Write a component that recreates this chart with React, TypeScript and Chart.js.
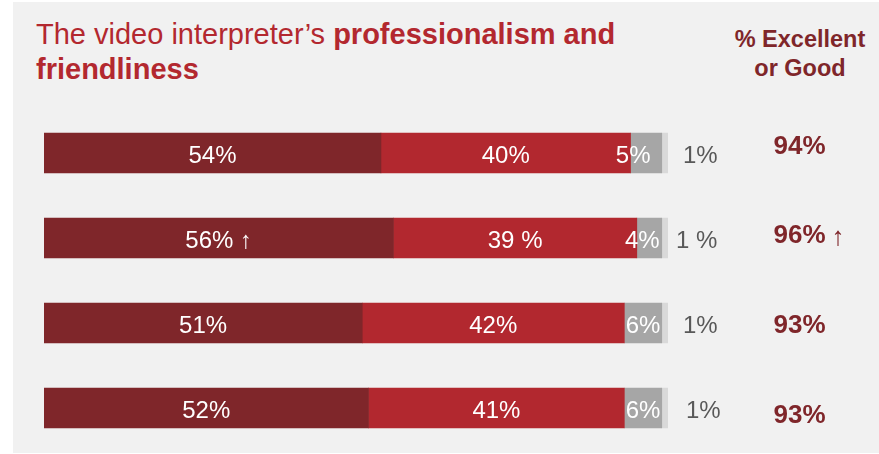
import { useEffect, useRef } from 'react';
import { Chart, registerables } from 'chart.js';

Chart.register(...registerables);

const categories = ['Wave 1', 'Wave 2', 'Wave 3', 'Wave 4'];
const excellent = [54, 56, 51, 52];
const good = [40, 39, 42, 41];
const fair = [5, 4, 6, 6];
const poor = [1, 1, 1, 1];

const excellentLabels = ['54%', '56% ↑', '51%', '52%'];
const goodLabels = ['40%', '39 %', '42%', '41%'];
const fairLabels = ['5%', '4%', '6%', '6%'];
const poorLabels = ['1%', '1 %', '1%', '1%'];
const excellentOrGood = ['94%', '96%', '93%', '93%'];
const trendMarks = ['', '↑', '', ''];

const FONT = '"Liberation Sans", Arial, Helvetica, sans-serif';
const COLORS = ['#7f262a', '#b2282f', '#a6a6a6', '#d9d9d9'];
const fairNudge = [-13, -7, 0, 0];
const poorGap = [15, 8, 15, 18];
const rightDrift = [1, 5, 10, 15];

const labelPlugin = {
  id: 'barLabels',
  afterDatasetsDraw(chart: any) {
    const ctx = chart.ctx as CanvasRenderingContext2D;
    ctx.save();
    ctx.textBaseline = 'alphabetic';
    const inside = [excellentLabels, goodLabels, fairLabels];
    inside.forEach((labels, di) => {
      const meta = chart.getDatasetMeta(di);
      meta.data.forEach((el: any, i: number) => {
        const { x, y, base } = el.getProps(['x', 'y', 'base'], true);
        const nudge = di === 2 ? fairNudge[i] : 0;
        ctx.font = `24px ${FONT}`;
        ctx.fillStyle = '#ffffff';
        ctx.textAlign = 'center';
        ctx.fillText(labels[i], (x + base) / 2 + nudge, y + 10);
      });
    });
    const outMeta = chart.getDatasetMeta(3);
    outMeta.data.forEach((el: any, i: number) => {
      const { x, y } = el.getProps(['x', 'y'], true);
      ctx.font = `24px ${FONT}`;
      ctx.fillStyle = '#595959';
      ctx.textAlign = 'left';
      ctx.fillText(poorLabels[i], x + poorGap[i], y + 10);
    });
    const cx = 799.5;
    outMeta.data.forEach((el: any, i: number) => {
      const { y } = el.getProps(['y'], true);
      ctx.font = `bold 26px ${FONT}`;
      ctx.fillStyle = '#7f262a';
      ctx.textAlign = 'left';
      const w = ctx.measureText(excellentOrGood[i]).width;
      const sx = cx - w / 2;
      const by = y + rightDrift[i];
      ctx.fillText(excellentOrGood[i], sx, by);
      if (trendMarks[i]) {
        ctx.font = `26px ${FONT}`;
        ctx.fillText(trendMarks[i], sx + w + 6, by + 2);
      }
    });
    ctx.restore();
  },
};

export default function App() {
  const canvasRef = useRef<HTMLCanvasElement | null>(null);

  useEffect(() => {
    if (!canvasRef.current) return;
    const chart = new Chart(canvasRef.current, {
      type: 'bar',
      data: {
        labels: categories,
        datasets: [
          { label: 'Excellent', data: excellent, backgroundColor: COLORS[0] },
          { label: 'Good', data: good, backgroundColor: COLORS[1] },
          { label: 'Fair', data: fair, backgroundColor: COLORS[2] },
          { label: 'Poor', data: poor, backgroundColor: COLORS[3] },
        ].map((d) => ({ ...d, barThickness: 40, borderWidth: 0 })),
      },
      options: {
        indexAxis: 'y',
        animation: false,
        responsive: false,
        devicePixelRatio: 1,
        layout: { padding: { left: 44, right: 211, top: 110.5, bottom: 3.5 } },
        scales: {
          x: { stacked: true, min: 0, max: 100, display: false },
          y: { stacked: true, display: false },
        },
        plugins: {
          legend: { display: false },
          tooltip: { enabled: false },
          title: { display: false },
        },
      },
      plugins: [labelPlugin],
    } as any);
    return () => chart.destroy();
  }, []);

  return (
    <div
      style={{
        position: 'fixed',
        left: 0,
        top: 0,
        width: 879,
        height: 454,
        background: '#ffffff',
        overflow: 'hidden',
        fontFamily: FONT,
      }}
    >
      <div
        style={{
          position: 'absolute',
          left: 13,
          top: 2,
          width: 866,
          height: 451,
          background: '#f1f1f1',
        }}
      />
      <div
        style={{
          position: 'absolute',
          left: 36,
          top: 17,
          fontSize: 29,
          lineHeight: '35px',
          color: '#b3282f',
          whiteSpace: 'nowrap',
        }}
      >
        The video interpreter’s <b>professionalism and</b>
        <br />
        <b>friendliness</b>
      </div>
      <div
        style={{
          position: 'absolute',
          left: 700,
          top: 24.5,
          width: 200,
          textAlign: 'center',
          fontSize: 23.5,
          lineHeight: '29px',
          fontWeight: 'bold',
          color: '#7f262a',
        }}
      >
        % Excellent
        <br />
        or Good
      </div>
      <canvas
        ref={canvasRef}
        width={879}
        height={454}
        style={{ position: 'absolute', left: 0, top: 0, width: 879, height: 454 }}
      />
    </div>
  );
}
